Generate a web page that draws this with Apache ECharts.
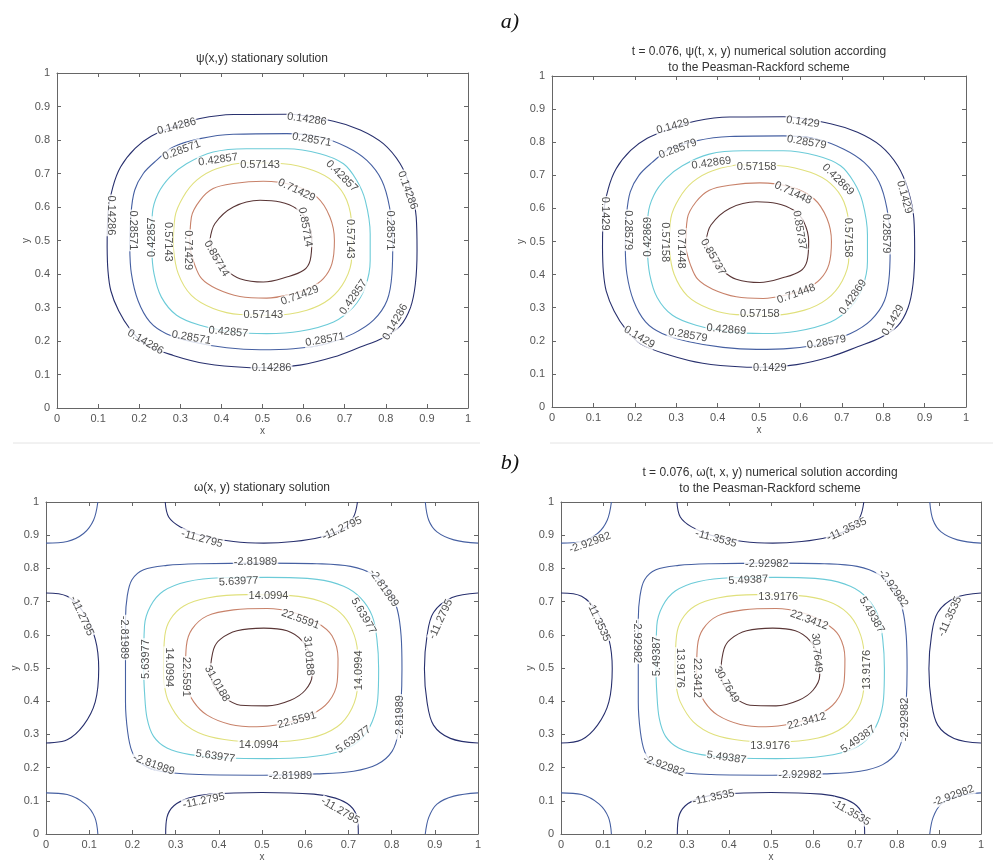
<!DOCTYPE html>
<html lang="en">
<head>
<meta charset="UTF-8">
<title>psi / omega contours</title>
<script src="https://cdn.jsdelivr.net/npm/echarts@6/dist/echarts.min.js"></script>
<style>
    html, body { margin: 0; padding: 0; background: #fff; }
    #charts { width: 993px; height: 863px; }
</style>
</head>
<body>
<div id="charts"></div>
<script>
    // contour levels (label texts)
    var psiLevelsStat = ['0.14286', '0.28571', '0.42857', '0.57143', '0.71429', '0.85714'];
    var psiLevelsNum = ['0.1429', '0.28579', '0.42869', '0.57158', '0.71448', '0.85737'];
    var omLevelsStat = ['-11.2795', '-2.81989', '5.63977', '14.0994', '22.5591', '31.0188'];
    var omLevelsNum = ['-11.3535', '-2.92982', '5.49387', '13.9176', '22.3412', '30.7649'];

    // psi contour lines (x, y)
    var psi0 = [[0.122,0.48],[0.124,0.58],[0.136,0.66],[0.155,0.72],[0.19,0.775],[0.23,0.812],[0.29,0.842],[0.348,0.864],[0.429,0.876],[0.559,0.877],[0.673,0.856],[0.738,0.83],[0.794,0.789],[0.835,0.729],[0.859,0.66],[0.874,0.57],[0.876,0.47],[0.872,0.371],[0.86,0.30],[0.835,0.245],[0.794,0.21],[0.738,0.182],[0.673,0.152],[0.591,0.128],[0.51,0.12],[0.461,0.121],[0.364,0.132],[0.283,0.157],[0.215,0.19],[0.178,0.235],[0.15,0.29],[0.131,0.35],[0.124,0.41],[0.122,0.48]];
    var psi1 = [[0.177,0.48],[0.18,0.58],[0.189,0.65],[0.21,0.70],[0.242,0.739],[0.283,0.779],[0.348,0.804],[0.429,0.817],[0.559,0.819],[0.64,0.809],[0.705,0.779],[0.754,0.739],[0.79,0.68],[0.809,0.60],[0.817,0.50],[0.815,0.401],[0.803,0.321],[0.77,0.262],[0.721,0.222],[0.656,0.192],[0.575,0.177],[0.494,0.174],[0.413,0.18],[0.331,0.197],[0.266,0.222],[0.226,0.257],[0.197,0.321],[0.181,0.401],[0.177,0.48]];
    var psi2 = [[0.23,0.48],[0.232,0.58],[0.246,0.64],[0.275,0.69],[0.315,0.729],[0.38,0.764],[0.461,0.774],[0.559,0.774],[0.64,0.759],[0.697,0.729],[0.729,0.68],[0.75,0.62],[0.762,0.52],[0.762,0.44],[0.75,0.361],[0.721,0.301],[0.673,0.257],[0.591,0.229],[0.51,0.222],[0.429,0.227],[0.348,0.247],[0.291,0.277],[0.254,0.331],[0.236,0.401],[0.23,0.48]];
    var psi3 = [[0.283,0.48],[0.287,0.57],[0.307,0.63],[0.34,0.68],[0.388,0.714],[0.461,0.732],[0.551,0.729],[0.624,0.709],[0.673,0.675],[0.705,0.62],[0.717,0.54],[0.717,0.451],[0.701,0.381],[0.664,0.326],[0.608,0.292],[0.526,0.277],[0.445,0.279],[0.38,0.297],[0.327,0.336],[0.295,0.401],[0.283,0.48]];
    var psi4 = [[0.323,0.48],[0.327,0.57],[0.348,0.62],[0.38,0.655],[0.429,0.67],[0.502,0.677],[0.575,0.665],[0.632,0.63],[0.664,0.57],[0.675,0.50],[0.669,0.431],[0.648,0.386],[0.616,0.359],[0.567,0.339],[0.51,0.328],[0.445,0.333],[0.388,0.356],[0.352,0.386],[0.334,0.431],[0.323,0.48]];
    var psi5 = [[0.372,0.50],[0.384,0.55],[0.429,0.60],[0.494,0.62],[0.543,0.615],[0.583,0.595],[0.608,0.56],[0.62,0.50],[0.616,0.441],[0.6,0.411],[0.559,0.391],[0.502,0.376],[0.445,0.386],[0.413,0.411],[0.384,0.451],[0.372,0.50]];

    // omega contour lines (x, y)
    var omTop = [[0.276,1.0],[0.284,0.955],[0.311,0.925],[0.357,0.9],[0.434,0.881],[0.504,0.876],[0.573,0.881],[0.635,0.894],[0.689,0.92],[0.712,0.955],[0.721,1.0]];
    var omBottom = [[0.277,0],[0.28,0.05],[0.296,0.085],[0.33,0.108],[0.38,0.12],[0.5,0.125],[0.62,0.12],[0.67,0.108],[0.704,0.085],[0.72,0.05],[0.723,0]];
    var omLeft = [[0,0.726],[0.049,0.716],[0.087,0.667],[0.114,0.587],[0.122,0.498],[0.114,0.398],[0.087,0.328],[0.049,0.284],[0,0.274]];
    var omRight = [[1,0.726],[0.94,0.712],[0.897,0.667],[0.882,0.597],[0.876,0.498],[0.882,0.398],[0.897,0.328],[0.936,0.288],[1,0.274]];
    var omCornerTL = [[0,0.876],[0.049,0.881],[0.087,0.905],[0.11,0.945],[0.12,1.0]];
    var omCornerTR = [[0.878,1],[0.886,0.945],[0.905,0.91],[0.944,0.886],[1,0.876]];
    var omCornerBL = [[0,0.124],[0.049,0.119],[0.091,0.09],[0.113,0.05],[0.12,0]];
    var omCornerBR = [[0.878,0],[0.886,0.05],[0.905,0.09],[0.944,0.114],[1,0.124]];
    var om1 = [[0.184,0.547],[0.184,0.647],[0.188,0.716],[0.199,0.766],[0.226,0.796],[0.28,0.809],[0.357,0.814],[0.504,0.816],[0.627,0.814],[0.705,0.806],[0.758,0.781],[0.793,0.736],[0.813,0.677],[0.822,0.597],[0.824,0.498],[0.822,0.398],[0.816,0.308],[0.801,0.249],[0.766,0.209],[0.712,0.189],[0.627,0.181],[0.504,0.177],[0.357,0.179],[0.265,0.189],[0.218,0.214],[0.199,0.249],[0.189,0.308],[0.184,0.398],[0.184,0.498],[0.184,0.547]];
    var om2 = [[0.226,0.498],[0.228,0.627],[0.242,0.687],[0.272,0.732],[0.326,0.76],[0.404,0.772],[0.512,0.773],[0.627,0.767],[0.689,0.746],[0.728,0.711],[0.755,0.657],[0.766,0.587],[0.77,0.498],[0.768,0.408],[0.755,0.338],[0.728,0.284],[0.681,0.249],[0.604,0.231],[0.512,0.227],[0.419,0.229],[0.334,0.239],[0.28,0.259],[0.249,0.294],[0.234,0.348],[0.228,0.428],[0.226,0.498]];
    var om3 = [[0.272,0.498],[0.275,0.597],[0.288,0.647],[0.319,0.687],[0.373,0.711],[0.465,0.721],[0.566,0.718],[0.635,0.701],[0.681,0.667],[0.708,0.617],[0.721,0.547],[0.721,0.448],[0.708,0.378],[0.674,0.323],[0.612,0.289],[0.512,0.277],[0.434,0.281],[0.365,0.299],[0.315,0.338],[0.284,0.398],[0.274,0.448],[0.272,0.498]];
    var om4 = [[0.323,0.498],[0.325,0.567],[0.338,0.617],[0.373,0.657],[0.434,0.675],[0.512,0.679],[0.573,0.667],[0.627,0.637],[0.662,0.597],[0.676,0.528],[0.674,0.458],[0.654,0.398],[0.612,0.358],[0.55,0.333],[0.488,0.323],[0.427,0.33],[0.373,0.358],[0.342,0.398],[0.325,0.448],[0.323,0.498]];
    var om5 = [[0.38,0.488],[0.388,0.557],[0.404,0.587],[0.442,0.612],[0.504,0.62],[0.558,0.612],[0.593,0.582],[0.612,0.537],[0.616,0.478],[0.6,0.433],[0.566,0.403],[0.512,0.386],[0.45,0.388],[0.411,0.413],[0.388,0.448],[0.38,0.488]];

    // contour labels: x, y, angle, level index
    var psiStatLabels = [[0.291,0.841,15,0],[0.608,0.862,-8,0],[0.853,0.65,-70,0],[0.132,0.575,-90,0],[0.215,0.197,-30,0],[0.522,0.12,0,0],[0.823,0.257,60,0],
        [0.303,0.769,20,1],[0.62,0.801,-10,1],[0.811,0.53,-90,1],[0.184,0.53,-90,1],[0.327,0.21,-10,1],[0.652,0.204,10,1],
        [0.392,0.741,8,2],[0.693,0.692,-45,2],[0.23,0.51,90,2],[0.417,0.227,-5,2],[0.721,0.331,55,2],
        [0.494,0.724,0,3],[0.27,0.496,-90,3],[0.712,0.505,-90,3],[0.502,0.279,0,3],
        [0.583,0.65,-25,4],[0.319,0.471,-90,4],[0.591,0.336,20,4],
        [0.604,0.54,-80,5],[0.388,0.446,-60,5]];
    var psiNumLabels = [[0.292,0.848,15,0],[0.606,0.861,-8,0],[0.851,0.634,-75,0],[0.127,0.584,-90,0],[0.211,0.211,-30,0],[0.526,0.119,0,0],[0.824,0.262,60,0],
        [0.304,0.78,20,1],[0.615,0.80,-10,1],[0.808,0.524,-90,1],[0.183,0.534,-90,1],[0.328,0.217,-10,1],[0.663,0.196,10,1],
        [0.385,0.737,8,2],[0.691,0.687,-45,2],[0.231,0.514,90,2],[0.421,0.234,-5,2],[0.727,0.332,55,2],
        [0.494,0.725,0,3],[0.272,0.498,-90,3],[0.715,0.512,-90,3],[0.502,0.28,0,3],
        [0.582,0.647,-25,4],[0.312,0.478,-90,4],[0.59,0.342,20,4],
        [0.598,0.534,-80,5],[0.389,0.453,-60,5]];
    var omStatLabels = [[0.361,0.889,-15,0],[0.685,0.92,25,0],[0.083,0.657,-65,0],[0.914,0.647,65,0],[0.365,0.1,12,0],[0.681,0.07,-30,0],
        [0.485,0.818,0,1],[0.782,0.741,-55,1],[0.181,0.592,-90,1],[0.82,0.353,90,1],[0.249,0.209,-20,1],[0.566,0.174,0,1],
        [0.446,0.761,3,2],[0.735,0.657,-60,2],[0.232,0.527,90,2],[0.712,0.284,35,2],[0.392,0.234,-8,2],
        [0.515,0.716,0,3],[0.284,0.502,-90,3],[0.724,0.493,90,3],[0.492,0.267,0,3],
        [0.589,0.647,-20,4],[0.323,0.473,-90,4],[0.581,0.343,15,4],
        [0.608,0.537,-85,5],[0.396,0.453,-60,5]];
    var omNumLabels = [[0.069,0.877,20,1],[0.934,0.115,20,1],
        [0.369,0.89,-15,0],[0.68,0.917,25,0],[0.089,0.64,-65,0],[0.926,0.655,65,0],[0.363,0.11,12,0],[0.69,0.065,-30,0],
        [0.49,0.813,0,1],[0.791,0.74,-55,1],[0.182,0.58,-90,1],[0.819,0.345,90,1],[0.245,0.205,-20,1],[0.569,0.177,0,1],
        [0.446,0.765,3,2],[0.74,0.66,-60,2],[0.228,0.535,90,2],[0.708,0.285,35,2],[0.394,0.23,-8,2],
        [0.517,0.715,0,3],[0.283,0.50,-90,3],[0.728,0.495,90,3],[0.498,0.265,0,3],
        [0.591,0.645,-20,4],[0.325,0.47,-90,4],[0.585,0.34,15,4],
        [0.609,0.545,-85,5],[0.394,0.45,-60,5]];

    var ticks = [0, 0.1, 0.2, 0.3, 0.4, 0.5, 0.6, 0.7, 0.8, 0.9, 1];

    // jet colours, washed out like the scan
    var levelColors = ['#28306e', '#4660a2', '#6ccbd8', '#e0e07c', '#c8826a', '#5a3636'];
    var font = "'Liberation Sans', Arial, sans-serif";

    var psiLines = [psi0, psi1, psi2, psi3, psi4, psi5];
    var psiLineLevels = [0, 1, 2, 3, 4, 5];
    var omLines = [omTop, omBottom, omLeft, omRight, omCornerTL, omCornerTR, omCornerBL, omCornerBR, om1, om2, om3, om4, om5];
    var omLineLevels = [0, 0, 0, 0, 1, 1, 1, 1, 1, 2, 3, 4, 5];

    var grids = [
        {left: 57, top: 73, width: 411, height: 335},
        {left: 552, top: 76, width: 414, height: 331},
        {left: 46, top: 502, width: 432, height: 335},
        {left: 561, top: 502, width: 420, height: 333}
    ];

    var myChart = echarts.init(document.getElementById('charts'), null, {renderer: 'canvas'});

    function fmt(v) {
        if (v === 0) return '0';
        if (Math.abs(v - 1) < 1e-9) return '1';
        return v.toFixed(1);
    }

    var xAxes = [], yAxes = [], series = [];

    function axisBase(i, pos, showLabel) {
        return {
            type: 'value', gridIndex: i, position: pos,
            min: 0, max: 1, interval: 0.1,
            axisLine: {show: true, onZero: false, lineStyle: {color: '#666', width: 1}},
            axisTick: {show: true, inside: true, length: 4, lineStyle: {color: '#666'}},
            splitLine: {show: false},
            axisLabel: {show: showLabel, color: '#555', fontSize: 11, fontFamily: font, margin: 5, formatter: fmt,
                showMinLabel: true, showMaxLabel: true}
        };
    }

    function addPlot(i, lines, lineLevels, labels, levelTexts) {
        var xb = axisBase(i, 'bottom', true);
        xb.name = 'x'; xb.nameLocation = 'middle'; xb.nameGap = 18;
        xb.nameTextStyle = {color: '#555', fontSize: 10, fontFamily: font};
        var yl = axisBase(i, 'left', true);
        yl.name = 'y'; yl.nameLocation = 'middle'; yl.nameGap = 26; yl.nameRotate = 90;
        yl.nameTextStyle = {color: '#555', fontSize: 10, fontFamily: font};
        yl.axisLabel.margin = 7;
        xAxes.push(xb, axisBase(i, 'top', false));
        yAxes.push(yl, axisBase(i, 'right', false));
        var xi = i * 2, yi = i * 2;
        lines.forEach(function (pts, k) {
            series.push({
                type: 'line', xAxisIndex: xi, yAxisIndex: yi,
                data: pts, smooth: 0.35, symbol: 'none', silent: true,
                lineStyle: {color: levelColors[lineLevels[k]], width: 1.1},
                z: 2
            });
        });
        series.push({
            type: 'scatter', xAxisIndex: xi, yAxisIndex: yi,
            symbolSize: 0, silent: true, z: 5,
            data: labels.map(function (l) {
                return {
                    value: [l[0], l[1]],
                    label: {rotate: l[2], formatter: levelTexts[l[3]]}
                };
            }),
            label: {
                show: true, position: 'inside', color: '#222', fontSize: 11, fontFamily: font,
                backgroundColor: '#fff', padding: [0, 1]
            }
        });
    }

    addPlot(0, psiLines, psiLineLevels, psiStatLabels, psiLevelsStat);
    addPlot(1, psiLines, psiLineLevels, psiNumLabels, psiLevelsNum);
    addPlot(2, omLines, omLineLevels, omStatLabels, omLevelsStat);
    addPlot(3, omLines, omLineLevels, omNumLabels, omLevelsNum);

    function txt(x, y, s, size, extra) {
        var st = {text: s, x: x, y: y, textAlign: 'center', textVerticalAlign: 'middle',
            fill: '#333', font: size + 'px ' + font};
        if (extra) for (var k in extra) st[k] = extra[k];
        return {type: 'text', style: st, silent: true};
    }

    var graphics = [
        txt(262, 59, 'ψ(x,y) stationary solution', 12),
        txt(759, 52, 't = 0.076, ψ(t, x, y) numerical solution according', 12),
        txt(759, 68, 'to the Peasman-Rackford scheme', 12),
        txt(262, 488, 'ω(x, y) stationary solution', 12),
        txt(770, 473, 't = 0.076, ω(t, x, y) numerical solution according', 12),
        txt(770, 489, 'to the Peasman-Rackford scheme', 12),
        txt(510, 22, 'a)', 22, {font: "italic 22px 'Liberation Serif', 'DejaVu Serif', serif", fill: '#111'}),
        txt(510, 463, 'b)', 22, {font: "italic 22px 'Liberation Serif', 'DejaVu Serif', serif", fill: '#111'}),
        {type: 'line', shape: {x1: 13, y1: 443, x2: 480, y2: 443}, style: {stroke: '#e4e4e4', lineWidth: 1}, silent: true},
        {type: 'line', shape: {x1: 550, y1: 443, x2: 993, y2: 443}, style: {stroke: '#e4e4e4', lineWidth: 1}, silent: true}
    ];

    var option = {
        backgroundColor: '#fff',
        animation: false,
        grid: grids,
        xAxis: xAxes,
        yAxis: yAxes,
        series: series,
        graphic: graphics
    };

    myChart.setOption(option);
</script>
</body>
</html>
